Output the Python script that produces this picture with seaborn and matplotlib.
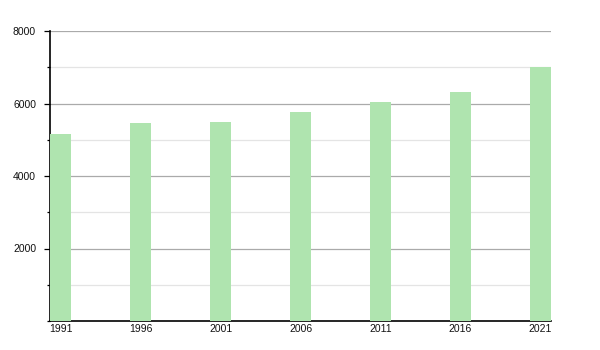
import matplotlib
matplotlib.use("Agg")
import matplotlib.pyplot as plt
import seaborn as sns
import numpy as np
from matplotlib.ticker import MultipleLocator

years = [1991, 1996, 2001, 2006, 2011, 2016, 2021]
population = [5160, 5470, 5490, 5765, 6045, 6325, 7000]
y_ticks = [2000, 4000, 6000, 8000]

sns.set_theme(style="white")
plt.rcParams['font.family'] = ['Liberation Sans', 'DejaVu Sans']

fig = plt.figure(figsize=(6, 3.5), dpi=100)
ax = fig.add_axes([50/600, 1-321/350, 501/600, 290/350])

sns.barplot(x=years, y=population, native_scale=True, width=0.26,
            color="#afe4af", saturation=1, ax=ax, zorder=3,
            edgecolor="none")

ax.set_xlim(1990.33, 2021.66)
ax.set_ylim(0, 8000)
ax.set_yticks(y_ticks)
ax.yaxis.set_minor_locator(MultipleLocator(1000))
ax.set_xticks(years)
ax.set_xticklabels([str(y) for y in years])

ax.grid(False)
ax.yaxis.grid(True, which="major", color="#aaaaaa", linewidth=0.9, zorder=0)
ax.yaxis.grid(True, which="minor", color="#e4e4e4", linewidth=0.9, zorder=0)
ax.set_axisbelow(True)

for s in ["top", "right"]:
    ax.spines[s].set_visible(False)
for s in ["left", "bottom"]:
    ax.spines[s].set_color("black")
    ax.spines[s].set_linewidth(1.2)

ax.tick_params(axis="y", which="major", length=4, width=0.9, color="black",
               labelsize=7.5, pad=6, left=True, labelcolor="#111111")
ax.tick_params(axis="y", which="minor", length=2, width=0.9, color="black", left=True)
ax.tick_params(axis="x", which="both", length=0, labelsize=7.5, pad=2,
               labelcolor="#111111")
ax.set_xlabel("")
ax.set_ylabel("")

fig.savefig("out.png", dpi=100)
